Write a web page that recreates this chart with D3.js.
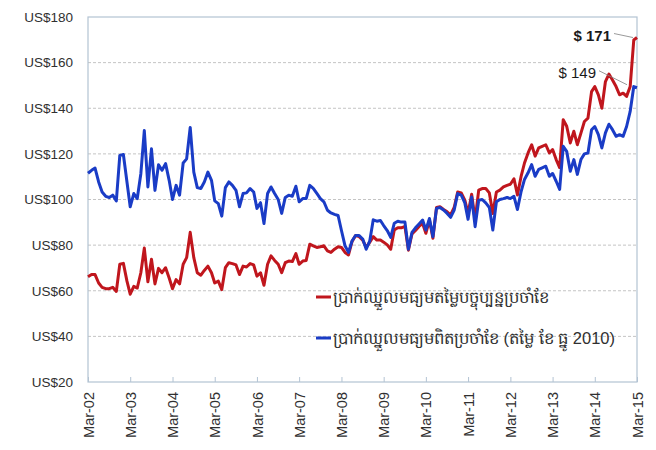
<!DOCTYPE html>
<html>
<head>
<meta charset="utf-8">
<script src="https://cdn.jsdelivr.net/npm/d3@7"></script>
<style>
  body { margin: 0; background: #fff; }
</style>
</head>
<body>
<div id="chart"></div>
<script>
// x axis ticks (one per March)
const tickLabels = ["Mar-02", "Mar-03", "Mar-04", "Mar-05", "Mar-06", "Mar-07", "Mar-08",
    "Mar-09", "Mar-10", "Mar-11", "Mar-12", "Mar-13", "Mar-14", "Mar-15"];

const yTicks = [20, 40, 60, 80, 100, 120, 140, 160, 180];

const seriesNames = [
    "ប្រាក់ឈ្នួលមធ្យមតម្លៃបច្ចុប្បន្នប្រចាំខែ",
    "ប្រាក់ឈ្នួលមធ្យមពិតប្រចាំខែ (តម្លៃ ខែ ធ្នូ 2010)"
];

// monthly values, Mar-02 .. Mar-15
const nominalWage = [
    66.1, 67.1, 67.1, 63.4, 61.5, 60.9, 60.9, 61.5, 59.7, 71.6, 72, 64.2, 58.5, 61.9, 61.2, 67.9,
    78.7, 63.9, 73.8, 63, 69.8, 67.9, 70.1, 65.6, 60.9, 64.9, 63, 71.6, 74.5, 85.6, 74.5, 67.9,
    66.8, 68.9, 70.8, 67.9, 63.4, 64.2, 60.5, 70.1, 72.3, 71.9, 71.3, 67.1, 70.8, 70.4, 71.9, 71.3,
    66.4, 67.9, 62.4, 71.6, 75.3, 73.3, 71.6, 67.9, 72.3, 73, 72.8, 76.3, 71.6, 73, 73.3, 80.4,
    79.7, 79, 79.3, 79.7, 77.5, 76.8, 78.2, 79.3, 79, 76.8, 75.7, 81.6, 84.2, 83.7, 82.2, 79,
    81.3, 83.7, 82.2, 82.2, 81.3, 80.1, 78.2, 86.7, 87.6, 87.6, 88.2, 77.8, 84.9, 86.4, 88.2,
    89.5, 85.2, 91, 83, 96.5, 96.8, 95.6, 94.6, 93.2, 96.5, 103.3, 102.9, 99.7, 93.9, 102.3, 91,
    104.1, 104.8, 104.8, 102.9, 93.9, 103.3, 104.1, 105.5, 106.2, 106.7, 109.1,
    102, 110, 116, 120.4, 124, 119, 122.6, 123.3, 124, 120.4, 121.9, 117.5, 114,
    135, 132.1, 124.8, 129.9, 124, 129.1, 134.2, 135.7, 147.3, 149.5, 145.9, 140, 151.7, 155,
    152.4, 149.5, 145.9, 146.6, 145.2, 149.5, 169.9, 171
];

const realWage = [
    111.5, 112.8, 113.8, 107.7, 103.3, 101.4, 100.9, 101.9, 99.4, 119.3, 119.7, 107.7, 96.8, 102.6, 100.4, 111.3,
    130.2, 105.5, 122.2, 104, 115.2, 112.8, 115.7, 108.4, 100, 106.2, 101.9, 116, 117.8, 131.6, 112, 105.2,
    104.8, 107.7, 112, 108.4, 99.4, 98.2, 92.7, 105.2, 107.7, 106.2, 104, 96.8, 102.6, 102.9, 104.8, 103.3,
    96.1, 98.6, 89.5, 102.6, 105.5, 102.6, 100, 93.9, 100.9, 101.9, 101.4, 105.8, 99, 100.4, 100.4, 106.2,
    104.9, 102.7, 100.4, 99, 95.3, 94.1, 93.5, 93, 86.4, 79.7, 76.8, 81.9, 84.2, 84.2, 82.7, 78.2,
    81.9, 91.1, 90.5, 90.8, 88.6, 86.4, 83.4, 89.6, 90.5, 90.1, 90.1, 78.2, 85.6, 87.6, 89.3,
    91, 86.6, 91.7, 83.7, 96.1, 96.5, 95.4, 93.9, 92.2, 95.4, 102.6, 101.9, 98.5, 91.3, 101.1, 88.1,
    99.7, 100, 98.5, 96.5, 86.6, 99, 100, 100.4, 100.9, 100.4, 101.4,
    95.6, 103.3, 108.8, 111.7, 115.3, 110.2, 113.2, 113.9, 114.6, 110.2, 111.4, 108, 104.4,
    123.3, 121.1, 112.4, 117.5, 111, 117.5, 120, 120.4, 130.6, 132, 128.4, 122.6, 129.2, 133,
    130.6, 127.7, 128.4, 127.7, 132, 138.6, 149.5, 149
];

const endLabels = ["$ 171", "$ 149"];

const colors = ["#c0161d", "#1a3cc6"];

const width = 656;
const height = 450;
const margin = { top: 17, right: 19, bottom: 68, left: 88 };

const svg = d3.select("#chart")
    .append("svg")
    .attr("width", width)
    .attr("height", height)
    .style("font-family", "'Liberation Sans', Arial, sans-serif");

const parseMonth = d3.timeParse("%b-%y");
const start = parseMonth(tickLabels[0]);
const tickDates = tickLabels.map(parseMonth);
const months = nominalWage.map((d, i) => d3.timeMonth.offset(start, i));

const x = d3.scaleTime()
    .domain([start, tickDates[tickDates.length - 1]])
    .range([margin.left, width - margin.right]);

const y = d3.scaleLinear()
    .domain([20, 180])
    .range([height - margin.bottom, margin.top]);

// gridlines
svg.append("g")
    .selectAll("line")
    .data(yTicks.slice(1, -1))
    .enter().append("line")
    .attr("x1", margin.left)
    .attr("x2", width - margin.right)
    .attr("y1", d => y(d))
    .attr("y2", d => y(d))
    .attr("stroke", "#c4c4c4")
    .attr("stroke-width", 1)
    .attr("stroke-dasharray", "3,2");

// plot border
svg.append("rect")
    .attr("x", margin.left)
    .attr("y", margin.top)
    .attr("width", width - margin.left - margin.right)
    .attr("height", height - margin.top - margin.bottom)
    .attr("fill", "none")
    .attr("stroke", "#b3c3d3")
    .attr("stroke-width", 1.2);

// y axis
const yAxis = svg.append("g")
    .attr("transform", `translate(${margin.left},0)`)
    .call(d3.axisLeft(y).tickValues(yTicks).tickSize(0).tickPadding(15).tickFormat(d => "US$" + d));
yAxis.select(".domain").remove();
yAxis.selectAll("text")
    .style("font-size", "13.5px")
    .attr("fill", "#303030");

// x axis
const xAxis = svg.append("g")
    .attr("transform", `translate(0,${height - margin.bottom})`)
    .call(d3.axisBottom(x).tickValues(tickDates).tickSizeInner(-5).tickSizeOuter(0)
        .tickFormat((d, i) => tickLabels[i]));
xAxis.select(".domain").remove();
xAxis.selectAll("line").attr("stroke", "#b3c3d3");
xAxis.selectAll("text")
    .attr("transform", "rotate(-90)")
    .attr("x", -10)
    .attr("y", 0)
    .attr("dy", "0.35em")
    .style("text-anchor", "end")
    .style("font-size", "14.5px")
    .attr("fill", "#303030");

// lines
const line = d3.line()
    .x((d, i) => x(months[i]))
    .y(d => y(d));

[nominalWage, realWage].forEach((series, k) => {
    svg.append("path")
        .datum(series)
        .attr("fill", "none")
        .attr("stroke", colors[k])
        .attr("stroke-width", 3)
        .attr("stroke-linejoin", "round")
        .attr("d", line);
});

// end labels with leader lines
const lastX = x(months[months.length - 1]);
const lastNominal = nominalWage[nominalWage.length - 1];
const lastReal = realWage[realWage.length - 1];

svg.append("line")
    .attr("x1", lastX - 23).attr("y1", y(lastNominal) - 4)
    .attr("x2", lastX - 4).attr("y2", y(lastNominal))
    .attr("stroke", "#808080").attr("stroke-width", 0.8);
svg.append("text")
    .attr("x", lastX - 26)
    .attr("y", y(lastNominal) + 3)
    .attr("text-anchor", "end")
    .style("font-size", "15px")
    .style("font-weight", "bold")
    .attr("fill", "#1a1a1a")
    .text(endLabels[0]);

svg.append("line")
    .attr("x1", lastX - 38).attr("y1", y(lastReal) - 17)
    .attr("x2", lastX - 10).attr("y2", y(lastReal) - 3)
    .attr("stroke", "#808080").attr("stroke-width", 0.8);
svg.append("text")
    .attr("x", lastX - 41)
    .attr("y", y(lastReal) - 10)
    .attr("text-anchor", "end")
    .style("font-size", "15px")
    .attr("fill", "#1a1a1a")
    .text(endLabels[1]);

// legend
const legend = svg.append("g")
    .attr("transform", "translate(316,297)");
seriesNames.forEach((name, k) => {
    const g = legend.append("g").attr("transform", `translate(0,${k * 41})`);
    g.append("line")
        .attr("x1", 0).attr("x2", 15)
        .attr("stroke", colors[k])
        .attr("stroke-width", 3);
    g.append("text")
        .attr("x", 17)
        .attr("dy", "0.35em")
        .style("font-size", "16.5px")
        .attr("fill", "#303030")
        .text(name);
});
</script>
</body>
</html>
